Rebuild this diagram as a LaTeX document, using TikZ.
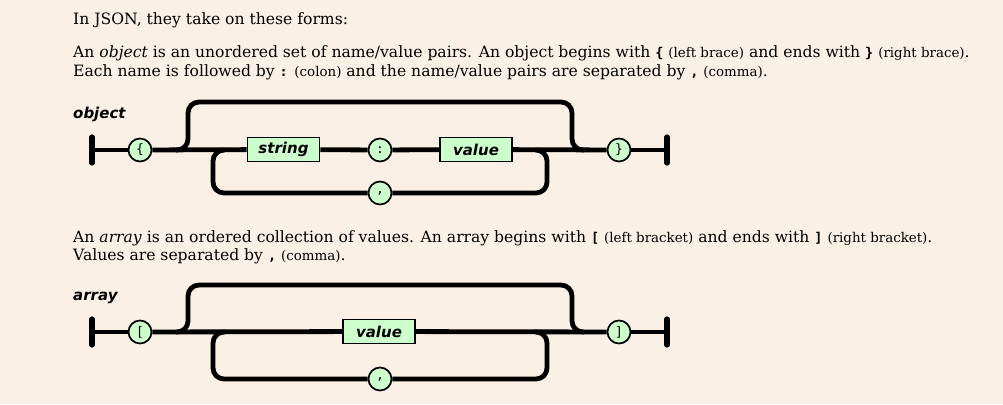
\documentclass[tikz,border=0pt]{standalone}
\usepackage{fontspec}
\setmainfont{DejaVu Serif}
\newfontfamily\diagfont{DejaVu Sans}
\newfontfamily\codefont{DejaVu Sans Mono}
\definecolor{bg}{HTML}{FAF0E6}
\definecolor{boxfill}{HTML}{CCFFCC}
\newcommand\jkw[1]{{\codefont\bfseries\fontsize{13.5}{15}\selectfont #1}}
\newcommand\jnote[1]{{\fontsize{13.4}{15}\selectfont #1}}
\begin{document}
\begin{tikzpicture}[x=1pt,y=-1pt,
  track/.style={line width=4.8pt, rounded corners=11pt},
  endbar/.style={line width=5.2pt, line cap=round},
  term/.style={circle, draw, line width=1.7pt, fill=boxfill, minimum size=23pt, inner sep=0pt, font=\codefont\fontsize{13}{13}\selectfont},
  nonterm/.style={rectangle, draw, line width=1.7pt, fill=boxfill, minimum width=72pt, minimum height=24pt, inner sep=0pt, font=\diagfont\bfseries\itshape\fontsize{15}{15}\selectfont},
  diaglabel/.style={anchor=base west, inner sep=0pt, font=\diagfont\bfseries\itshape\fontsize{15}{15}\selectfont},
  para/.style={anchor=base west, inner sep=0pt, font=\fontsize{15.6}{18}\selectfont}
]
\fill[bg] (0,0) rectangle (1003,404);
\useasboundingbox (0,0) rectangle (1003,404);

% paragraphs
\node[para] (p1) at (73,25) {In JSON, they take on these forms:};
\node[para] (p2) at (73,58) {An \textit{object} is an unordered set of name/value pairs. An object begins with \jkw{\{} \jnote{(left brace)} and ends with \jkw{\}} \jnote{(right brace)}.};
\node[para] (p3) at (73,77) {Each name is followed by \jkw{:} \jnote{(colon)} and the name/value pairs are separated by \jkw{,} \jnote{(comma)}.};
\node[para] (p4) at (73,242) {An \textit{array} is an ordered collection of values. An array begins with \jkw{[} \jnote{(left bracket)} and ends with \jkw{]} \jnote{(right bracket)}.};
\node[para] (p5) at (73,260) {Values are separated by \jkw{,} \jnote{(comma)}.};

% ---------- object diagram ----------
\node[diaglabel] (objlbl) at (73,118) {object};
\coordinate (os) at (92,150);
\coordinate (oe) at (667,150);
\node[term] (olb) at (140,150) {\{};
\node[nonterm] (ostr) at (283.5,149.5) {string};
\node[term] (ocol) at (380,150) {:};
\node[nonterm] (oval) at (476,149.5) {value};
\node[term] (orb) at (619,150) {\}};
\node[term] (ocom) at (380,193) {,};
\coordinate (oj1) at (176,150);
\coordinate (ot1) at (188,102);
\coordinate (oj2) at (572,150);
\coordinate (oj3) at (584,150);
\coordinate (ok1) at (535,150);
\coordinate (okr) at (547,193);
\coordinate (okl) at (213,193);
\coordinate (ok2) at (225,150);

\draw[endbar] ([yshift=13pt]os) -- ([yshift=-13pt]os);
\draw[endbar] ([yshift=13pt]oe) -- ([yshift=-13pt]oe);
\draw[track] (os) -- (olb);
\draw[track] (olb) -- (ostr);
\draw[track] (ostr) -- (ocol);
\draw[track] (ocol) -- (oval);
\draw[track] (oval) -- (orb);
\draw[track] (orb) -- (oe);
\draw[track] (oj1) -| (ot1) -| (oj2) -- (oj3);
\draw[track] (ok1) -| (okr) -- (ocom);
\draw[track] (ocom) -- (okl) |- (ok2);

% ---------- array diagram ----------
\node[diaglabel] (arrlbl) at (73,300) {array};
\coordinate (as) at (92,332);
\coordinate (ae) at (667,332);
\node[term] (alb) at (140,332) {[};
\node[nonterm] (aval) at (379,331.5) {value};
\node[term] (arb) at (619,332) {]};
\node[term] (acom) at (380,379) {,};
\coordinate (aj1) at (176,332);
\coordinate (at1) at (188,285);
\coordinate (aj2) at (572,332);
\coordinate (aj3) at (584,332);
\coordinate (ak1) at (535,332);
\coordinate (akr) at (547,379);
\coordinate (akl) at (213,379);
\coordinate (ak2) at (225,332);

\draw[endbar] ([yshift=13pt]as) -- ([yshift=-13pt]as);
\draw[endbar] ([yshift=13pt]ae) -- ([yshift=-13pt]ae);
\draw[track] (as) -- (alb);
\draw[track] (alb) -- (aval);
\draw[track] (aval) -- (arb);
\draw[track] (arb) -- (ae);
\draw[track] (aj1) -| (at1) -| (aj2) -- (aj3);
\draw[track] (ak1) -| (akr) -- (acom);
\draw[track] (acom) -- (akl) |- (ak2);
\end{tikzpicture}
\end{document}
